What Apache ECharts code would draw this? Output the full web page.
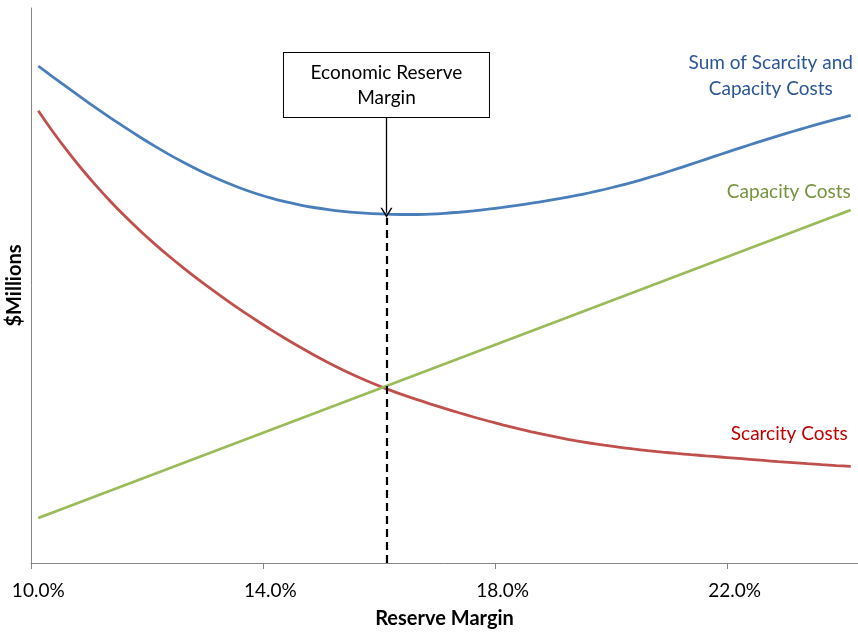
<!DOCTYPE html>
<html>
<head>
<meta charset="utf-8">
<script src="https://cdn.jsdelivr.net/npm/echarts@6/dist/echarts.min.js"></script>
<style>
  html, body { margin: 0; padding: 0; background: #ffffff; }
  #chart { width: 858px; height: 632px; }
</style>
</head>
<body>
<div id="chart"></div>
<script>
// Reserve margin (%) for each point on the curves
const reserveMargin = [
  10.0, 10.25, 10.5, 10.75, 11.0, 11.25, 11.5, 11.75, 12.0, 12.25, 12.5, 12.75,
  13.0, 13.25, 13.5, 13.75, 14.0, 14.25, 14.5, 14.75, 15.0, 15.25, 15.5, 15.75,
  16.0, 16.25, 16.5, 16.75, 17.0, 17.25, 17.5, 17.75, 18.0, 18.25, 18.5, 18.75,
  19.0, 19.25, 19.5, 19.75, 20.0, 20.25, 20.5, 20.75, 21.0, 21.25, 21.5, 21.75,
  22.0, 22.25, 22.5, 22.75, 23.0, 23.25, 23.5, 23.75, 24.0
];

// Labelled ticks on the reserve margin axis
const tickLabels = ['10.0%', '14.0%', '18.0%', '22.0%'];

// Expected scarcity costs ($M)
const scarcityCosts = [
  90.46, 86.30, 82.42, 78.80, 75.42, 72.26, 69.29, 66.50, 63.88, 61.39, 59.03, 56.77,
  54.61, 52.53, 50.52, 48.60, 46.73, 44.95, 43.24, 41.61, 40.06, 38.61, 37.25, 35.99,
  34.83, 33.78, 32.79, 31.84, 30.93, 30.05, 29.20, 28.40, 27.63, 26.91, 26.24, 25.61,
  25.02, 24.48, 24.00, 23.56, 23.16, 22.81, 22.48, 22.19, 21.92, 21.67, 21.43, 21.20,
  20.97, 20.74, 20.51, 20.28, 20.07, 19.86, 19.67, 19.49, 19.32
];

// Capacity costs ($M)
const capacityCosts = [
  9.0, 10.1, 11.2, 12.3, 13.4, 14.5, 15.6, 16.7, 17.8, 18.9, 20.0, 21.1,
  22.2, 23.3, 24.4, 25.5, 26.6, 27.7, 28.8, 29.9, 31.0, 32.1, 33.2, 34.3,
  35.4, 36.5, 37.6, 38.7, 39.8, 40.9, 42.0, 43.1, 44.2, 45.3, 46.4, 47.5,
  48.6, 49.7, 50.8, 51.9, 53.0, 54.1, 55.2, 56.3, 57.4, 58.5, 59.6, 60.7,
  61.8, 62.9, 64.0, 65.1, 66.2, 67.3, 68.4, 69.5, 70.6
];

// Sum of scarcity and capacity costs ($M)
const totalCosts = [
  99.40, 97.24, 95.11, 93.02, 90.98, 88.99, 87.06, 85.20, 83.42, 81.73, 80.14, 78.66,
  77.29, 76.04, 74.91, 73.90, 73.01, 72.26, 71.63, 71.10, 70.67, 70.33, 70.07, 69.88,
  69.76, 69.70, 69.70, 69.78, 69.93, 70.15, 70.43, 70.76, 71.13, 71.53, 71.96, 72.42,
  72.92, 73.46, 74.05, 74.70, 75.41, 76.18, 77.01, 77.89, 78.81, 79.76, 80.73, 81.70,
  82.66, 83.60, 84.52, 85.42, 86.30, 87.15, 87.97, 88.76, 89.52
];

// Reserve margin at which total cost is lowest
const economicMargin = 16.0;

const FONT = 'Lato, "Open Sans", sans-serif';
const fmtPct = v => Number(v).toFixed(1) + '%';
const lastIdx = reserveMargin.length - 1;
const econIdx = reserveMargin.indexOf(economicMargin);

// Callout box and arrow, in value units on the $Millions axis
const calloutCenter = 95.6;
const calloutBottom = 89.1;
const arrowTip = totalCosts[econIdx] + 0.3;

// Open "V" arrowhead
const openArrow = 'path://M6,0 L12,10 L10.4,10 L6,2.6 L1.6,10 L0,10 Z';

const chart = echarts.init(document.getElementById('chart'), null, { renderer: 'canvas' });

const isLabelled = (idx, val) => tickLabels.indexOf(fmtPct(val)) >= 0;

const endText = (text, color, align, offset, value) => ({
  coord: [lastIdx, value],
  symbol: 'circle',
  symbolSize: 1,
  itemStyle: { color: 'rgba(0,0,0,0)' },
  label: {
    show: true,
    position: 'inside',
    formatter: text,
    color: color,
    fontFamily: FONT,
    fontSize: 19,
    lineHeight: 26,
    align: align,
    verticalAlign: 'middle',
    offset: offset
  }
});

chart.setOption({
  animation: false,
  backgroundColor: '#ffffff',
  grid: { left: 31, right: 0, top: 8, bottom: 69, containLabel: false, outerBoundsMode: 'none' },
  xAxis: {
    type: 'category',
    data: reserveMargin.map(String),
    boundaryGap: true,
    name: 'Reserve Margin',
    nameLocation: 'middle',
    nameGap: 46,
    nameTextStyle: { fontFamily: FONT, fontWeight: 'bold', fontSize: 20, color: '#000' },
    axisLine: { show: true, lineStyle: { color: '#868686', width: 1 } },
    axisTick: { show: true, interval: isLabelled, length: 6, inside: false, lineStyle: { color: '#868686' } },
    axisLabel: {
      show: true,
      interval: isLabelled,
      formatter: v => fmtPct(v),
      margin: 18,
      fontFamily: FONT,
      fontSize: 19,
      color: '#000'
    },
    splitLine: { show: false }
  },
  yAxis: {
    type: 'value',
    min: 0,
    max: 111,
    name: '$Millions',
    nameLocation: 'middle',
    nameRotate: 90,
    nameGap: 6,
    nameTextStyle: { fontFamily: FONT, fontWeight: 'bold', fontSize: 20, color: '#000' },
    axisLine: { show: true, lineStyle: { color: '#868686', width: 1 } },
    axisTick: { show: false },
    axisLabel: { show: false },
    splitLine: { show: false }
  },
  series: [
    {
      name: 'Scarcity Costs',
      type: 'line',
      data: scarcityCosts,
      smooth: 0.3,
      symbol: 'none',
      lineStyle: { color: '#C0504D', width: 2.8 },
      itemStyle: { color: '#C0504D' },
      z: 2,
      markPoint: {
        silent: true,
        data: [endText('Scarcity Costs', '#C00000', 'right', [-3, -33], scarcityCosts[lastIdx])]
      }
    },
    {
      name: 'Capacity Costs',
      type: 'line',
      data: capacityCosts,
      smooth: 0.3,
      symbol: 'none',
      lineStyle: { color: '#9BBB59', width: 2.8 },
      itemStyle: { color: '#9BBB59' },
      z: 3,
      markPoint: {
        silent: true,
        data: [endText('Capacity Costs', '#77933C', 'right', [0, -18], capacityCosts[lastIdx])]
      }
    },
    {
      name: 'Sum of Scarcity and Capacity Costs',
      type: 'line',
      data: totalCosts,
      smooth: 0.3,
      symbol: 'none',
      lineStyle: { color: '#4A7EBB', width: 2.8 },
      itemStyle: { color: '#4A7EBB' },
      z: 4,
      markPoint: {
        silent: true,
        data: [
          endText('Sum of Scarcity and\nCapacity Costs', '#2C5697', 'center', [-80, -40], totalCosts[lastIdx]),
          {
            coord: [econIdx, calloutCenter],
            symbol: 'circle',
            symbolSize: 1,
            itemStyle: { color: 'rgba(0,0,0,0)' },
            label: {
              show: true,
              position: 'inside',
              formatter: 'Economic Reserve\nMargin',
              color: '#000',
              fontFamily: FONT,
              fontSize: 19,
              lineHeight: 25,
              align: 'center',
              verticalAlign: 'middle',
              backgroundColor: '#ffffff',
              borderColor: '#000000',
              borderWidth: 1,
              width: 205,
              height: 50,
              padding: [7, 0, 7, 0]
            }
          }
        ]
      },
      markLine: {
        silent: true,
        animation: false,
        label: { show: false },
        emphasis: { disabled: true },
        data: [
          [
            { coord: [econIdx, 0], symbol: 'none', lineStyle: { color: '#000', width: 2.2, type: [8, 5] } },
            { coord: [econIdx, totalCosts[econIdx] - 0.7], symbol: 'none' }
          ],
          [
            { coord: [econIdx, calloutBottom], symbol: 'none', lineStyle: { color: '#000', width: 1.3, type: 'solid' } },
            { coord: [econIdx, arrowTip], symbol: openArrow, symbolSize: [12, 10] }
          ]
        ]
      }
    }
  ]
});
</script>
</body>
</html>
